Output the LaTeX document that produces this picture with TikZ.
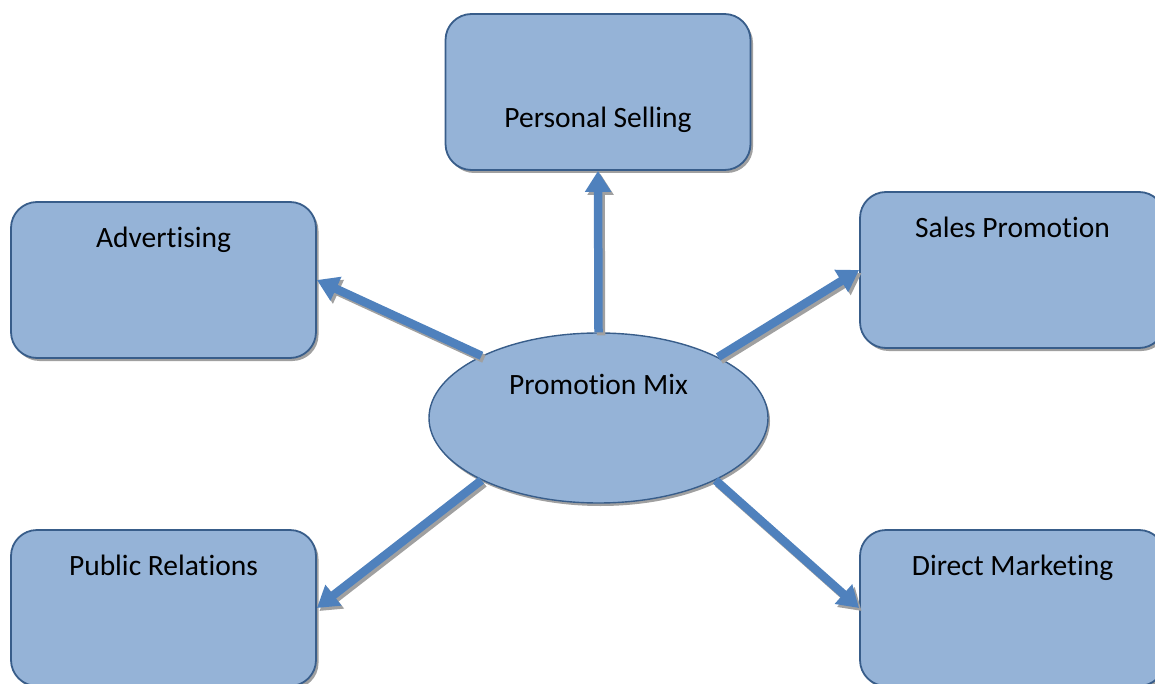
\documentclass[tikz,border=0pt]{standalone}
\usepackage{fontspec}
\setmainfont[Ligatures=NoCommon]{Carlito}
\usepackage{xcolor}
\usepackage{tikz}
\usetikzlibrary{arrows.meta, shapes.geometric, shadows}

\definecolor{boxfill}{HTML}{95B3D7}
\definecolor{boxline}{HTML}{385D8A}
\definecolor{arrblue}{HTML}{4F81BD}
\definecolor{shadegray}{HTML}{A0A0A0}

\begin{document}
\begin{tikzpicture}[
    x=1pt, y=-1pt,
    tool/.style={rectangle, rounded corners=26pt, draw=boxline, fill=boxfill,
                 line width=1.8pt, minimum width=305pt, minimum height=156pt, inner sep=0pt,
                 drop shadow={shadow xshift=2.5pt, shadow yshift=-3pt, fill=shadegray, opacity=1}},
    hub/.style={ellipse, draw=boxline, fill=boxfill, line width=1.4pt,
                minimum width=339pt, minimum height=170pt, inner sep=0pt,
                drop shadow={shadow xshift=2pt, shadow yshift=-3pt, fill=shadegray, opacity=1}},
    lbl/.style={anchor=base, inner sep=0pt, font=\fontsize{29.5}{34}\selectfont},
    arr/.style={draw=arrblue, line width=8.5pt, -{Triangle[length=21pt, width=25pt]}},
    arrshade/.style={arr, draw=shadegray, transform canvas={xshift=2.5pt, yshift=-3pt}}
  ]
  \useasboundingbox (0,0) rectangle (1155,684);
  \clip (0,0) rectangle (1155,684);

  % the five tools and the hub
  \node[tool] (ps)  at (598,92)    {};
  \node[tool] (adv) at (163.5,280) {};
  \node[tool] (ss)  at (1012.5,270) {};
  \node[tool] (pr)  at (163.5,608) {};
  \node[tool] (dm)  at (1012.5,608) {};
  \node[hub]  (pm)  at (598.5,418) {};

  % texts
  \node[lbl] (pst)  at ([yshift=-114.5pt]ps.north) {Personal Selling};
  \node[lbl] (advt) at ([yshift=-46.5pt]adv.north) {Advertising};
  \node[lbl] (sst)  at ([yshift=-46.5pt]ss.north)  {Sales Promotion};
  \node[lbl] (prt)  at ([yshift=-46.5pt]pr.north)  {Public Relations};
  \node[lbl] (dmt)  at ([yshift=-46.5pt]dm.north)  {Direct Marketing};
  \node[lbl] (pmt)  at ([yshift=23.5pt]pm.center)  {Promotion Mix};

  % shadows of the arrows
  \draw[arrshade] (pm.north) -- (ps.south);
  \draw[arrshade] (pm.152.4) -- (adv.east);
  \draw[arrshade] (pm.27) -- (ss.west);
  \draw[arrshade] (pm.208.4) -- (pr.east);
  \draw[arrshade] (pm.332.2) -- (dm.west);

  % arrows
  \draw[arr] (pm.north) -- (ps.south);
  \draw[arr] (pm.152.4) -- (adv.east);
  \draw[arr] (pm.27) -- (ss.west);
  \draw[arr] (pm.208.4) -- (pr.east);
  \draw[arr] (pm.332.2) -- (dm.west);
\end{tikzpicture}
\end{document}
